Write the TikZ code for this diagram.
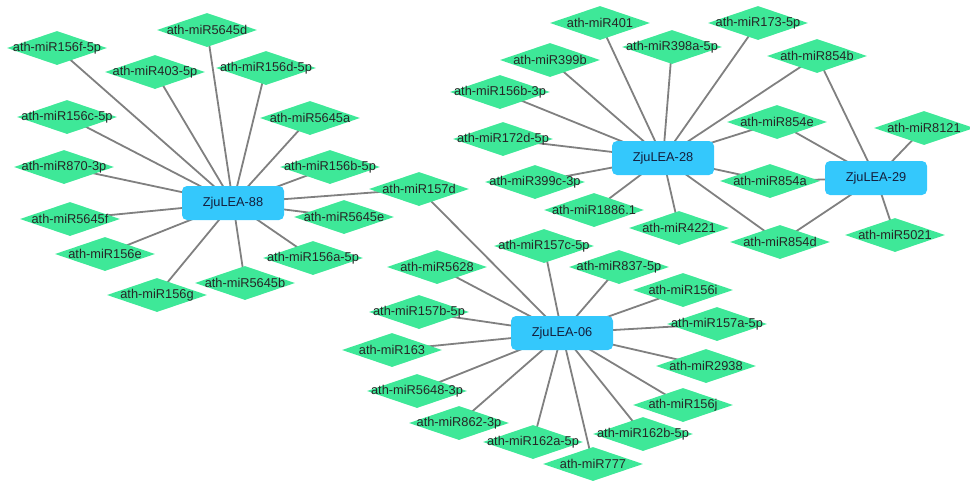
\documentclass[tikz,border=0pt]{standalone}
\usepackage{fontspec}
\setmainfont{Liberation Sans}
\usetikzlibrary{shapes.geometric,backgrounds}
\definecolor{leafgreen}{RGB}{62,232,152}
\definecolor{hubblue}{RGB}{52,200,252}
\definecolor{edgegray}{RGB}{128,128,128}
\definecolor{hubtext}{RGB}{20,30,60}
\tikzset{
  leaf/.style={diamond,fill=leafgreen,draw=none,inner sep=0pt,minimum width=100pt,minimum height=34pt,font=\fontsize{12.8}{15}\selectfont,text=black!85},
  hub/.style={rectangle,rounded corners=5pt,fill=hubblue,draw=none,inner sep=0pt,minimum width=102pt,minimum height=34pt,font=\fontsize{12.8}{15}\selectfont,text=hubtext},
  link/.style={draw=edgegray,line width=1.8pt}
}
\newcommand{\lf}[3]{\node[leaf] (#1) at (#2) {\makebox[0pt]{#3}};}
\begin{document}
\begin{tikzpicture}[x=1pt,y=-1pt]
\useasboundingbox (0,0) rectangle (970,480);
% hubs
\node[hub] (h88) at (233,203) {\makebox[0pt]{ZjuLEA-88}};
\node[hub] (h28) at (663,158) {\makebox[0pt]{ZjuLEA-28}};
\node[hub] (h29) at (876,178) {\makebox[0pt]{ZjuLEA-29}};
\node[hub] (h06) at (562,333) {\makebox[0pt]{ZjuLEA-06}};
% 88 leaves
\lf{a1}{57,48}{ath-miR156f-5p}
\lf{a2}{207,30}{ath-miR5645d}
\lf{a3}{155,72}{ath-miR403-5p}
\lf{a4}{266,68}{ath-miR156d-5p}
\lf{a5}{67,117}{ath-miR156c-5p}
\lf{a6}{310,118}{ath-miR5645a}
\lf{a7}{64,167}{ath-miR870-3p}
\lf{a8}{330,167}{ath-miR156b-5p}
\lf{a9}{70,219}{ath-miR5645f}
\lf{a10}{344,217}{ath-miR5645e}
\lf{a11}{105,254}{ath-miR156e}
\lf{a12}{313,258}{ath-miR156a-5p}
\lf{a13}{245,283}{ath-miR5645b}
\lf{a14}{157,295}{ath-miR156g}
\lf{d157}{419,189}{ath-miR157d}
% 28 leaves
\lf{b1}{600,23}{ath-miR401}
\lf{b2}{758,23}{ath-miR173-5p}
\lf{b3}{672,47}{ath-miR398a-5p}
\lf{b4}{550,60}{ath-miR399b}
\lf{b5}{817,56}{ath-miR854b}
\lf{b6}{500,92}{ath-miR156b-3p}
\lf{b7}{777,122}{ath-miR854e}
\lf{b8}{503,139}{ath-miR172d-5p}
\lf{b9}{535,182}{ath-miR399c-3p}
\lf{b10}{770,181}{ath-miR854a}
\lf{b11}{594,210}{ath-miR1886.1}
\lf{b12}{679,228}{ath-miR4221}
\lf{b13}{780,242}{ath-miR854d}
\lf{c1}{924,128}{ath-miR8121}
\lf{c2}{895,235}{ath-miR5021}
% 06 leaves
\lf{e1}{544,246}{ath-miR157c-5p}
\lf{e2}{437,267}{ath-miR5628}
\lf{e3}{619,267}{ath-miR837-5p}
\lf{e4}{683,290}{ath-miR156i}
\lf{e5}{419,312}{ath-miR157b-5p}
\lf{e6}{717,324}{ath-miR157a-5p}
\lf{e7}{392,350}{ath-miR163}
\lf{e8}{706,366}{ath-miR2938}
\lf{e9}{417,391}{ath-miR5648-3p}
\lf{e10}{683,405}{ath-miR156j}
\lf{e11}{459,423}{ath-miR862-3p}
\lf{e12}{643,434}{ath-miR162b-5p}
\lf{e13}{533,442}{ath-miR162a-5p}
\lf{e14}{593,464}{ath-miR777}
% edges
\begin{scope}[on background layer]
\foreach \n in {a1,a2,a3,a4,a5,a6,a7,a8,a9,a10,a11,a12,a13,a14,d157}
  \draw[link] (h88.center) -- (\n.center);
\foreach \n in {b1,b2,b3,b4,b5,b6,b7,b8,b9,b10,b11,b12,b13}
  \draw[link] (h28.center) -- (\n.center);
\foreach \n in {b5,b7,b10,b13,c1,c2}
  \draw[link] (h29.center) -- (\n.center);
\foreach \n in {d157,e1,e2,e3,e4,e5,e6,e7,e8,e9,e10,e11,e12,e13,e14}
  \draw[link] (h06.center) -- (\n.center);
\end{scope}
\end{tikzpicture}
\end{document}
